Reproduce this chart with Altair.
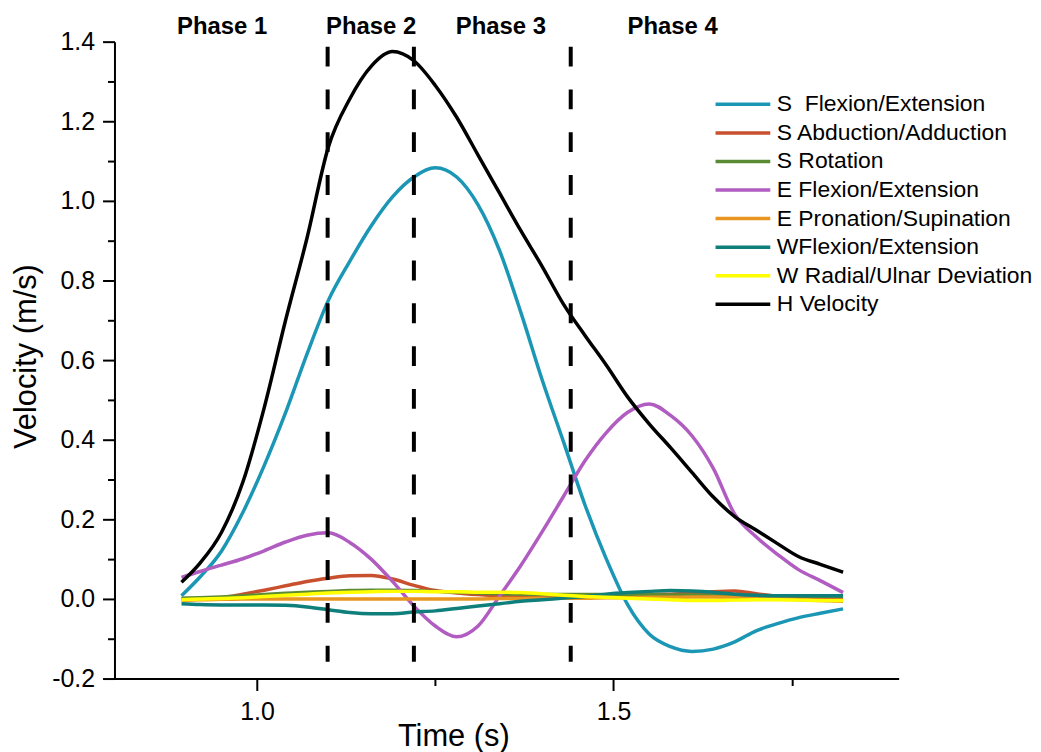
import altair as alt
import pandas as pd

# ---------------- data ----------------
time = [0.894, 0.92, 0.95, 0.98, 1.01, 1.04, 1.07, 1.10, 1.13, 1.16, 1.19, 1.22,
        1.25, 1.28, 1.31, 1.34, 1.37, 1.40, 1.43, 1.46, 1.49, 1.52, 1.55, 1.58,
        1.61, 1.64, 1.67, 1.70, 1.73, 1.76, 1.79, 1.822]

s_flex = [0.008, 0.055, 0.12, 0.217, 0.335, 0.468, 0.615, 0.75, 0.848, 0.937, 1.01, 1.06,
          1.083, 1.06, 0.99, 0.876, 0.72, 0.55, 0.394, 0.236, 0.10, -0.015, -0.088, -0.12,
          -0.132, -0.126, -0.108, -0.08, -0.062, -0.047, -0.036, -0.025]
s_abd = [0.0, 0.0, 0.003, 0.012, 0.022, 0.033, 0.044, 0.052, 0.058, 0.059, 0.05, 0.034,
         0.021, 0.015, 0.011, 0.008, 0.007, 0.006, 0.007, 0.008, 0.009, 0.01, 0.012, 0.012,
         0.014, 0.018, 0.02, 0.013, 0.007, 0.004, 0.003, 0.0]
s_rot = [0.002, 0.003, 0.005, 0.008, 0.011, 0.014, 0.017, 0.019, 0.021, 0.022, 0.022, 0.021,
         0.019, 0.017, 0.015, 0.013, 0.012, 0.011, 0.011, 0.011, 0.011, 0.011, 0.011, 0.01,
         0.01, 0.009, 0.009, 0.008, 0.008, 0.008, 0.007, 0.007]
e_flex = [0.054, 0.069, 0.085, 0.101, 0.121, 0.143, 0.160, 0.166, 0.142, 0.10, 0.044, -0.018,
          -0.068, -0.095, -0.068, 0.007, 0.084, 0.169, 0.258, 0.347, 0.418, 0.469, 0.49, 0.461,
          0.41, 0.328, 0.213, 0.156, 0.112, 0.073, 0.046, 0.016]
e_pron = [-0.004, -0.002, -0.001, 0.0, 0.0, 0.0, 0.0, 0.0, 0.0, 0.0, 0.0, 0.0,
          0.0, 0.0, 0.0, 0.001, 0.001, 0.002, 0.002, 0.002, 0.003, 0.003, 0.004, 0.004,
          0.005, 0.005, 0.004, 0.002, 0.0, -0.002, -0.004, -0.006]
w_flex = [-0.012, -0.014, -0.015, -0.015, -0.015, -0.016, -0.02, -0.027, -0.034, -0.037, -0.037, -0.033,
          -0.03, -0.024, -0.018, -0.012, -0.006, -0.002, 0.002, 0.006, 0.012, 0.016, 0.019, 0.021,
          0.02, 0.017, 0.012, 0.009, 0.008, 0.008, 0.008, 0.008]
w_rad = [-0.002, 0.0, 0.001, 0.003, 0.006, 0.009, 0.012, 0.015, 0.017, 0.018, 0.019, 0.019,
         0.018, 0.018, 0.017, 0.017, 0.016, 0.013, 0.009, 0.006, 0.004, 0.002, 0.0, -0.002,
         -0.004, -0.004, -0.003, -0.002, -0.002, -0.003, -0.004, -0.004]
h_vel = [0.042, 0.09, 0.167, 0.293, 0.48, 0.70, 0.906, 1.135, 1.256, 1.338, 1.375, 1.352,
         1.29, 1.21, 1.115, 1.02, 0.925, 0.835, 0.74, 0.662, 0.587, 0.507, 0.44, 0.38,
         0.318, 0.256, 0.207, 0.173, 0.139, 0.106, 0.087, 0.067]

series_names = ["S \u00a0Flexion/Extension", "S Abduction/Adduction", "S Rotation",
                "E Flexion/Extension", "E Pronation/Supination", "WFlexion/Extension",
                "W Radial/Ulnar Deviation", "H Velocity"]
series_colors = ["#1B97B5", "#C9502F", "#5B8A35", "#B05CC0", "#E8961F", "#0F7F7C",
                 "#FFFF00", "#000000"]
series_values = [s_flex, s_abd, s_rot, e_flex, e_pron, w_flex, w_rad, h_vel]

phase_names = ["Phase 1", "Phase 2", "Phase 3", "Phase 4"]
phase_label_time = [0.951, 1.160, 1.342, 1.583]
phase_label_v = [1.419, 1.419, 1.419, 1.419]

boundary_time = [1.099, 1.22, 1.44]
boundary_top = [1.3875, 1.3875, 1.3875]
boundary_bottom = [-0.1575, -0.1575, -0.1575]

x_ticks = [1.0, 1.25, 1.5, 1.75]
y_ticks = [-0.2, -0.1, 0.0, 0.1, 0.2, 0.3, 0.4, 0.5, 0.6, 0.7, 0.8, 0.9,
           1.0, 1.1, 1.2, 1.3, 1.4]

# ---------------- tables ----------------
rows = []
for name, vals in zip(series_names, series_values):
    for t, v in zip(time, vals):
        rows.append({"series": name, "time": t, "velocity": v})
df = pd.DataFrame(rows)
rules_df = pd.DataFrame({"t": boundary_time, "top": boundary_top, "bottom": boundary_bottom})
labels_df = pd.DataFrame({"label": phase_names, "t": phase_label_time, "v": phase_label_v})

FONT = "Liberation Sans"

x_major = "abs(datum.value*2 - round(datum.value*2)) < 0.01"
y_major = "abs(round(datum.value*10)) % 2 == 0"

x_axis = alt.Axis(
    values=x_ticks,
    tickSize={"condition": {"test": x_major, "value": 12}, "value": 7},
    labelExpr=f"({x_major}) ? format(datum.value, '.1f') : ''",
    labelPadding=9, labelFlush=False, labelOverlap=False,
    titleX=340.5, titleY=67, titleBaseline="alphabetic", titleAlign="center",
)
y_axis = alt.Axis(
    values=y_ticks,
    tickSize={"condition": {"test": y_major, "value": 12}, "value": 7},
    labelExpr=f"({y_major}) ? (datum.value < -0.001 ? '-' : '') + format(abs(datum.value), '.1f') : ''",
    labelPadding=8, labelFlush=False, labelOverlap=False,
    titleX=-72, titleY=316, titleAngle=-90, titleBaseline="bottom", titleAlign="center",
    titleFontSize=31,
)

x_scale = alt.Scale(domain=[0.8, 1.9], nice=False, zero=False)
y_scale = alt.Scale(domain=[-0.2, 1.4], nice=False, zero=False)


def X(field):
    return alt.X(f"{field}:Q", scale=x_scale, axis=x_axis, title="Time (s)")


def Y(field):
    return alt.Y(f"{field}:Q", scale=y_scale, axis=y_axis, title="Velocity (m/s)")


legend = alt.Legend(
    orient="none", legendX=620, legendY=51.5, title=None, padding=0,
    symbolType="M-3.667,0L3.667,0", symbolSize=225, symbolStrokeWidth=3.5,
    labelFont=FONT, labelFontSize=23, labelColor="black", labelOffset=22.5,
    rowPadding=4.7, labelLimit=400,
)
color = alt.Color("series:N", scale=alt.Scale(domain=series_names, range=series_colors),
                  legend=legend)

line_layers = []
for name in series_names:
    line_layers.append(
        alt.Chart(df)
        .transform_filter(alt.datum.series == name)
        .mark_line(strokeWidth=3.5, interpolate="monotone")
        .encode(x=X("time"), y=Y("velocity"), color=color)
    )

rules = alt.Chart(rules_df).mark_rule(
    color="black", strokeWidth=4, strokeDash=[20, 23], strokeCap="butt"
).encode(x=X("t"), y=Y("top"), y2=alt.Y2("bottom"))

texts = alt.Chart(labels_df).mark_text(
    font=FONT, fontSize=24, fontWeight="bold", color="black",
    align="center", baseline="alphabetic"
).encode(x=X("t"), y=Y("v"), text="label:N")

chart = (
    alt.layer(*line_layers, rules, texts)
    .properties(
        width=788, height=640,
        autosize=alt.AutoSizeParams(type="none"),
        padding={"left": 107, "top": 32, "right": 135, "bottom": 72},
    )
    .configure_view(stroke=None)
    .configure_axis(
        domainColor="black", domainWidth=2, tickColor="black", tickWidth=2,
        labelFont=FONT, labelFontSize=25, labelColor="black",
        titleFont=FONT, titleFontSize=31, titleFontWeight="normal", titleColor="black",
        grid=False,
    )
)

chart.save("out.html", embed_options={"renderer": "svg", "actions": False})
